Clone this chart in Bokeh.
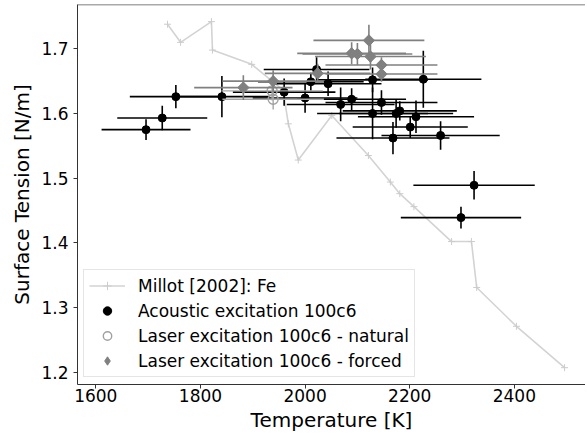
import numpy as np
from bokeh.plotting import figure
from bokeh.models import Range1d, Legend, LegendItem, Span, FixedTicker
from bokeh.embed import file_html
from bokeh.resources import INLINE

# ---- data ----
millot_T = [1737, 1762, 1821, 1823, 1898, 1958, 1968, 1987, 2051, 2121, 2163,
            2181, 2208, 2280, 2318, 2328, 2404, 2496]
millot_S = [1.738, 1.710, 1.742, 1.698, 1.676, 1.636, 1.584, 1.528, 1.597, 1.535,
            1.494, 1.476, 1.456, 1.402, 1.402, 1.331, 1.271, 1.207]

acoustic_T = [1696, 1727, 1753, 1841, 1960, 2000, 2011, 2022, 2044, 2068, 2089, 2129,
              2129, 2146, 2174, 2181, 2212, 2226, 2201, 2168, 2259, 2323, 2298]
acoustic_S = [1.575, 1.593, 1.626, 1.626, 1.633, 1.624, 1.649, 1.668, 1.646, 1.614,
              1.622, 1.652, 1.600, 1.617, 1.600, 1.604, 1.595, 1.653, 1.579, 1.562,
              1.566, 1.489, 1.439]
acoustic_Terr = [85, 86, 88, 92, 98, 100, 101, 101, 102, 103, 104, 106, 106, 107, 109,
                 109, 111, 111, 110, 108, 113, 116, 115]
acoustic_Serr = [0.016, 0.019, 0.018, 0.032, 0.021, 0.023, 0.014, 0.019, 0.019, 0.026,
                 0.017, 0.019, 0.040, 0.019, 0.022, 0.015, 0.025, 0.044, 0.017, 0.025,
                 0.022, 0.022, 0.017]

natural_T = [1937, 1939]
natural_S = [1.635, 1.622]
natural_Terr = [97, 97]
natural_Serr = [0.015, 0.016]

forced_T = [1882, 1939, 2024, 2122, 2089, 2100, 2125, 2146, 2146]
forced_S = [1.640, 1.650, 1.662, 1.713, 1.693, 1.692, 1.688, 1.675, 1.661]
forced_Terr = [94, 97, 101, 106, 104, 105, 106, 107, 107]
forced_Serr = [0.019, 0.017, 0.015, 0.024, 0.017, 0.017, 0.020, 0.012, 0.012]

x_ticks = [1600, 1800, 2000, 2200, 2400]
y_ticks = [1.2, 1.3, 1.4, 1.5, 1.6, 1.7]

FONT = "DejaVu Sans"
Y_END = 1.7685

p = figure(width=585, height=434, output_backend="svg", toolbar_location=None,
           x_range=Range1d(1565, 2536), y_range=Range1d(1.181, Y_END),
           min_border_left=77, min_border_right=0, min_border_top=4,
           min_border_bottom=50, background_fill_color="white",
           border_fill_color="white")
p.outline_line_color = None
p.grid.visible = False

for ax in (p.xaxis[0], p.yaxis[0]):
    ax.axis_line_color = "#333333"
    ax.axis_line_width = 1
    ax.major_tick_line_color = "#333333"
    ax.major_tick_out = 4
    ax.major_tick_in = 0
    ax.minor_tick_line_color = None
    ax.major_label_text_font = FONT
    ax.major_label_text_font_size = "17px"
    ax.major_label_text_color = "black"
    ax.axis_label_text_font = FONT
    ax.axis_label_text_font_size = "20px"
    ax.axis_label_text_font_style = "normal"
    ax.axis_label_text_color = "black"

p.xaxis.ticker = FixedTicker(ticks=x_ticks)
p.yaxis.ticker = FixedTicker(ticks=y_ticks)
p.xaxis.axis_label = "Temperature [K]"
p.yaxis.axis_label = "Surface Tension [N/m]"
p.xaxis.major_label_standoff = 0
p.xaxis.axis_label_standoff = 3
p.yaxis.major_label_standoff = 5
p.yaxis.axis_label_standoff = 4

p.add_layout(Span(location=Y_END, dimension="width", line_color="#555555", line_width=1.5))

# Millot line
r_m_line = p.line(millot_T, millot_S, line_color="#d3d3d3", line_width=1.6)
r_m_pts = p.scatter(millot_T, millot_S, marker="cross", size=7, line_color="#cccccc",
                    line_width=1)


def errorbars(T, S, Terr, Serr, color, lw):
    T = np.array(T, dtype=float)
    S = np.array(S, dtype=float)
    Terr = np.array(Terr, dtype=float)
    Serr = np.array(Serr, dtype=float)
    rh = p.segment(T - Terr, S, T + Terr, S, line_color=color, line_width=lw)
    rv = p.segment(T, S - Serr, T, S + Serr, line_color=color, line_width=lw)
    return rh, rv


errorbars(acoustic_T, acoustic_S, acoustic_Terr, acoustic_Serr, "black", 1.6)
r_ac = p.scatter(acoustic_T, acoustic_S, marker="circle", size=8, fill_color="black",
                 line_color="black")

errorbars(natural_T, natural_S, natural_Terr, natural_Serr, "#a6a6a6", 1.4)
r_nat = p.scatter(natural_T, natural_S, marker="circle", size=10, fill_color=None,
                  line_color="#a0a0a0", line_width=1.4)

errorbars(forced_T, forced_S, forced_Terr, forced_Serr, "#808080", 1.6)
r_fo_d = p.scatter(forced_T, forced_S, marker="diamond", size=11,
                   fill_color="#808080", line_color="#808080")
r_fo = p.scatter(forced_T, forced_S, marker="square", angle=np.pi / 4, size=8,
                 fill_color="#808080", line_color="#808080")

legend = Legend(items=[
    LegendItem(label="Millot [2002]: Fe", renderers=[r_m_line, r_m_pts]),
    LegendItem(label="Acoustic excitation 100c6", renderers=[r_ac]),
    LegendItem(label="Laser excitation 100c6 - natural", renderers=[r_nat]),
    LegendItem(label="Laser excitation 100c6 - forced", renderers=[r_fo_d]),
], location=(6, 7))
legend.margin = 0
legend.padding = 5
legend.spacing = 4
legend.glyph_width = 36
legend.glyph_height = 21
legend.label_height = 21
legend.label_standoff = 13
legend.label_text_font = FONT
legend.label_text_font_size = "17px"
legend.label_text_color = "black"
legend.border_line_color = "#cccccc"
legend.border_line_width = 1
legend.background_fill_alpha = 0.8
p.add_layout(legend)

open("out.html", "w").write(file_html(p, INLINE))
